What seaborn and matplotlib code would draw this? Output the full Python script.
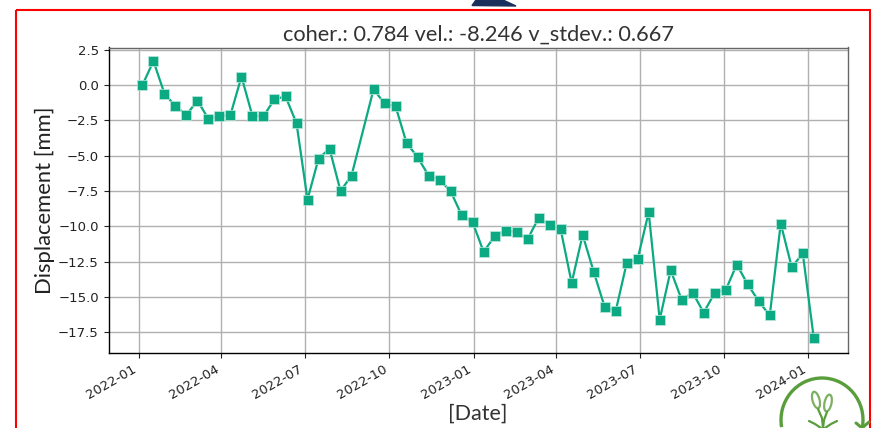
import pandas as pd
import matplotlib.pyplot as plt
import matplotlib.dates as mdates
from matplotlib.patches import Rectangle, Polygon, Arc, Ellipse
import seaborn as sns

datas = ['2022-01-05', '2022-01-17', '2022-01-29', '2022-02-10', '2022-02-22', '2022-03-06', '2022-03-18',
         '2022-03-30', '2022-04-11', '2022-04-23', '2022-05-05', '2022-05-17', '2022-05-29', '2022-06-10',
         '2022-06-22', '2022-07-04', '2022-07-16', '2022-07-28', '2022-08-09', '2022-08-21', '2022-09-14',
         '2022-09-26', '2022-10-08', '2022-10-20', '2022-11-01', '2022-11-13', '2022-11-25', '2022-12-07',
         '2022-12-19', '2022-12-31', '2023-01-12', '2023-01-24', '2023-02-05', '2023-02-17', '2023-03-01',
         '2023-03-13', '2023-03-25', '2023-04-06', '2023-04-18', '2023-04-30', '2023-05-12', '2023-05-24',
         '2023-06-05', '2023-06-17', '2023-06-29', '2023-07-11', '2023-07-23', '2023-08-04', '2023-08-16',
         '2023-08-28', '2023-09-09', '2023-09-21', '2023-10-03', '2023-10-15', '2023-10-27', '2023-11-08',
         '2023-11-20', '2023-12-02', '2023-12-14', '2023-12-26', '2024-01-07']
deslocamento = [0.0, 1.7, -0.6, -1.5, -2.1, -1.1, -2.4, -2.2, -2.1, 0.6, -2.2, -2.2, -1.0, -0.8, -2.7,
                -8.1, -5.2, -4.5, -7.5, -6.4, -0.3, -1.3, -1.5, -4.1, -5.1, -6.4, -6.7, -7.5, -9.2, -9.7,
                -11.8, -10.7, -10.3, -10.4, -10.9, -9.4, -9.9, -10.2, -14.0, -10.6, -13.2, -15.7, -16.0,
                -12.6, -12.3, -9.0, -16.6, -13.1, -15.2, -14.7, -16.1, -14.7, -14.5, -12.7, -14.1, -15.3,
                -16.3, -9.8, -12.9, -11.9, -17.9]
yticks = [2.5, 0.0, -2.5, -5.0, -7.5, -10.0, -12.5, -15.0, -17.5]
xticks = ['2022-01-01', '2022-04-01', '2022-07-01', '2022-10-01', '2023-01-01',
          '2023-04-01', '2023-07-01', '2023-10-01', '2024-01-01']

df = pd.DataFrame({'data': pd.to_datetime(datas), 'desl': deslocamento})

W, H = 875, 428
verde = '#0BAA82'
fonte = ['Lato', 'DejaVu Sans']

sns.set_style('ticks')
plt.rcParams['font.family'] = ['DejaVu Sans']

fig = plt.figure(figsize=(W / 100, H / 100), dpi=100)
ax = fig.add_axes([108.5 / W, 1 - 353.3 / H, (847.7 - 108.5) / W, (353.3 - 47.5) / H])

sns.lineplot(data=df, x='data', y='desl', ax=ax, color=verde, linewidth=1.6, marker='s',
             markersize=6.8, markeredgecolor='#BFE8DC', markeredgewidth=0.5)

ax.set_xlim(pd.Timestamp('2021-11-29'), pd.Timestamp('2024-02-13'))
ax.set_ylim(-18.98, 2.66)
ax.set_xticks(pd.to_datetime(xticks))
ax.xaxis.set_major_formatter(mdates.DateFormatter('%Y-%m'))
ax.set_yticks(yticks)
ax.tick_params(labelsize=9.5, colors='#222222', width=0.8, length=3.5)
ax.grid(True, color='#b0b0b0', linewidth=1)
ax.set_axisbelow(True)
for lado in ax.spines.values():
    lado.set_color('black')
    lado.set_linewidth(1)
ax.spines['top'].set_color('#666666')
ax.spines['right'].set_color('#666666')
for rotulo in ax.get_xticklabels():
    rotulo.set_rotation(30)
    rotulo.set_ha('right')

ax.set_title('coher.: 0.784 vel.: -8.246 v_stdev.: 0.667', fontsize=15.7, family=fonte, color='#333333', pad=5)
ax.set_ylabel('Displacement [mm]', fontsize=15.8, family=fonte, color='#222222', labelpad=2)
ax.set_xlabel('[Date]', fontsize=15.5, family=fonte, color='#333333', labelpad=0)
ax.xaxis.set_label_coords((478 - 108.5) / (847.7 - 108.5), (353.3 - 414) / (353.3 - 47.5), transform=ax.transAxes)
ax.xaxis.label.set_va('center')

# camada em pixels para a moldura e o logo
over = fig.add_axes([0, 0, 1, 1], facecolor='none')
over.set_xlim(0, W)
over.set_ylim(H, 0)
over.axis('off')
over.add_patch(Rectangle((15.5, 10.3), 854.5, 430, fill=False, edgecolor='#FF0000', linewidth=1.5))
over.add_patch(Polygon([(472, 5.5), (476, 0), (503, 0), (516, 6)], color='#1B2F5B'))

logo = '#5A9E3C'
over.add_patch(Arc((822, 420), 82, 84, theta1=-10, theta2=190, angle=180, edgecolor=logo, linewidth=2.4))
over.add_patch(Ellipse((816, 400), 7, 17, angle=-15, fill=False, edgecolor='#7DB062', linewidth=1.6))
over.add_patch(Ellipse((828, 403), 7, 17, angle=12, fill=False, edgecolor='#7DB062', linewidth=1.6))
over.plot([818, 822, 823], [409, 418, 428], color=logo, linewidth=1.6)
over.plot([827, 824, 823], [412, 420, 428], color=logo, linewidth=1.6)
over.plot([809, 815, 821], [421, 424, 428], color=logo, linewidth=1.6)
over.plot([837, 831, 825], [421, 424, 428], color=logo, linewidth=1.6)
over.plot([856, 862, 869], [423, 428, 422], color=logo, linewidth=2.2)

fig.savefig('out.png', dpi=100)
